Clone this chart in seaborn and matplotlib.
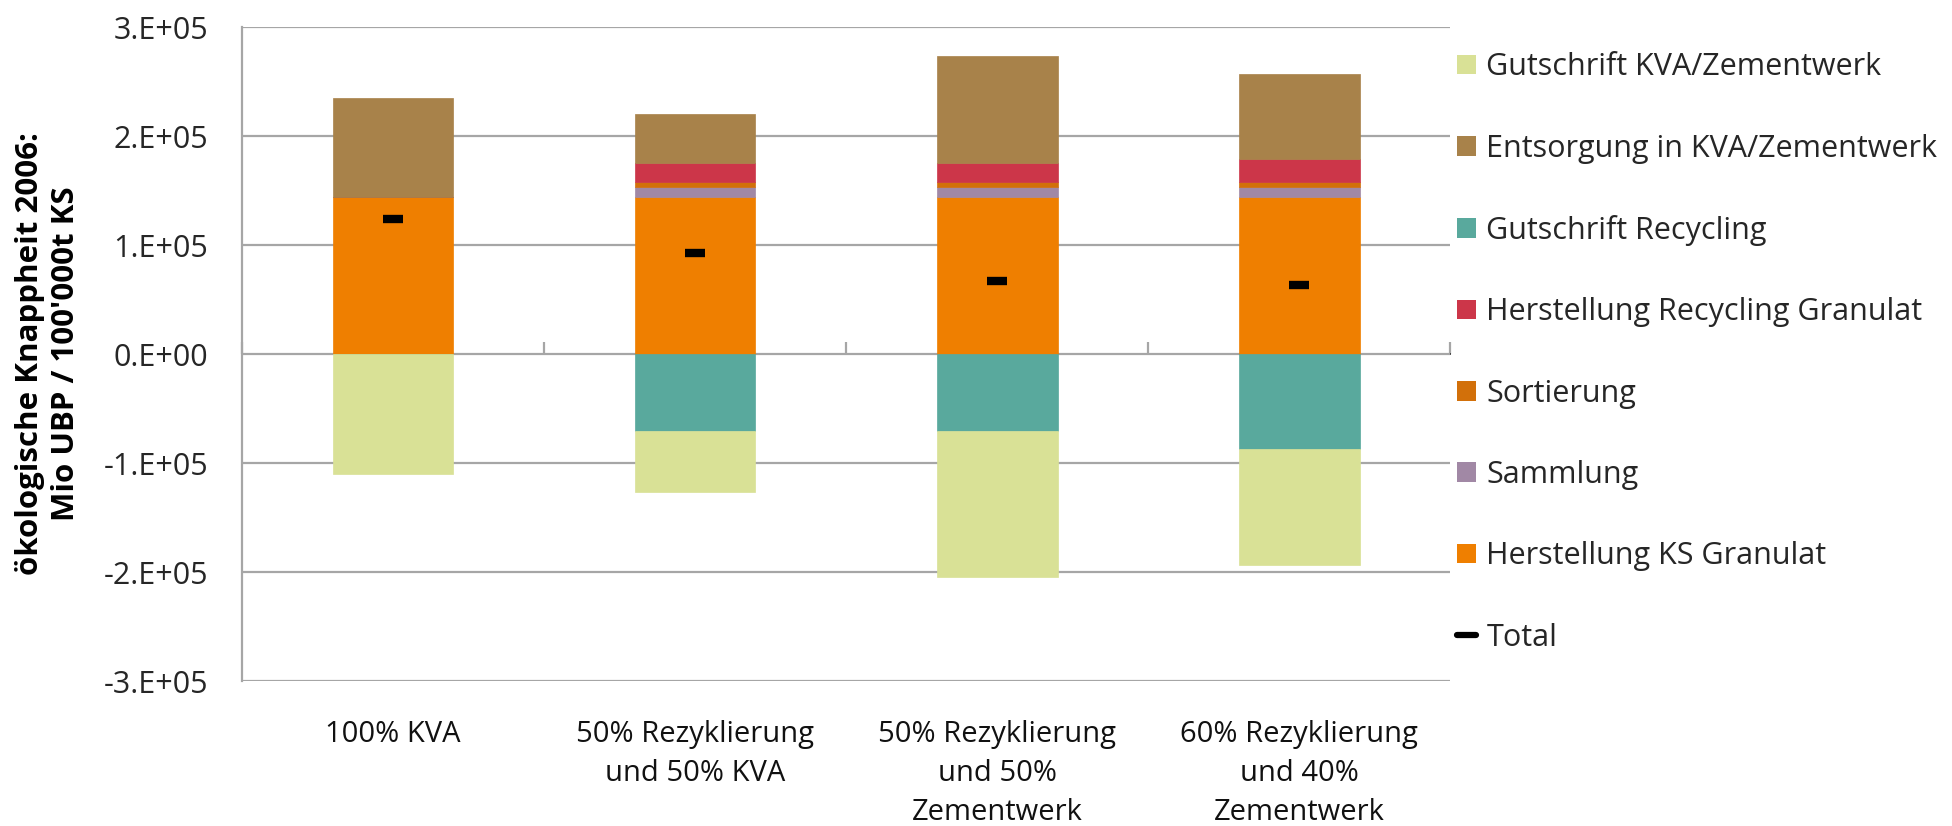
import seaborn as sb
import matplotlib.pyplot as plt
import matplotlib.ticker as mticker
from matplotlib.patches import Patch
from matplotlib.lines import Line2D
import numpy as np

sb.set_theme(style='white')
plt.rcParams['font.family'] = ['Open Sans', 'DejaVu Sans']

# scenarios
categories = ['100% KVA',
              '50% Rezyklierung\nund 50% KVA',
              '50% Rezyklierung\nund 50%\nZementwerk',
              '60% Rezyklierung\nund 40%\nZementwerk']

# positive contributions (stacked upward, in this order)
herstellung_ks = [144000, 144000, 144000, 144000]
sammlung = [0, 9000, 9000, 9000]
sortierung = [0, 5000, 5000, 5000]
herstellung_rec = [0, 17500, 17500, 20500]
entsorgung = [91000, 45000, 98000, 78000]
# credits (stacked downward)
gutschrift_rec = [0, -71000, -71000, -87000]
gutschrift_kva = [-110000, -56000, -134000, -107000]
# net result
total = [124000, 93000, 67000, 63000]

pos_series = [
    ('Herstellung KS Granulat', herstellung_ks, '#EF7F00'),
    ('Sammlung', sammlung, '#A188A5'),
    ('Sortierung', sortierung, '#D2700A'),
    ('Herstellung Recycling Granulat', herstellung_rec, '#CC3649'),
    ('Entsorgung in KVA/Zementwerk', entsorgung, '#A8824A'),
]
neg_series = [
    ('Gutschrift Recycling', gutschrift_rec, '#59A99D'),
    ('Gutschrift KVA/Zementwerk', gutschrift_kva, '#D9E196'),
]

fig = plt.figure(figsize=(19.52, 8.26), dpi=100)
ax = fig.add_axes([0.124, 0.1755, 0.6189, 0.7918])

colors = {}
for series in (pos_series, neg_series):
    base = np.zeros(len(categories))
    for name, vals, col in series:
        sb.barplot(x=categories, y=vals, bottom=list(base), color=col, width=0.4,
                   errorbar=None, saturation=1, edgecolor=col, linewidth=0.5, ax=ax)
        base = base + np.array(vals)
        colors[name] = col

sb.pointplot(x=categories, y=total, color='black', markers='_', linestyle='none',
             errorbar=None, markersize=14, markeredgewidth=6, ax=ax)

ax.set_ylim(-300000, 300000)
ax.set_xlim(-0.5, len(categories) - 0.5)
ax.yaxis.set_major_locator(mticker.MultipleLocator(100000))
ax.yaxis.set_major_formatter(mticker.FuncFormatter(
    lambda v, p: '{:.0E}'.format(v).replace('E', '.E')))
ax.yaxis.grid(True, color='#A6A6A6', linewidth=1.6)
ax.set_axisbelow(True)
for s in ['top', 'right', 'bottom']:
    ax.spines[s].set_visible(False)
ax.spines['left'].set_color('#A6A6A6')
ax.spines['left'].set_linewidth(1.6)
ax.tick_params(axis='y', colors='#A6A6A6', length=8.5, width=1.6, pad=16,
               labelcolor='#262626', labelsize=22)
ax.tick_params(axis='x', length=0, pad=28, labelcolor='#111111', labelsize=21)
for lab in ax.get_xticklabels():
    lab.set_linespacing(1.46)
    lab.set_verticalalignment('top')
ax.set_xlabel('')
ax.set_ylabel('')

# category separators on the zero line
sec = ax.secondary_xaxis(0.5)
sec.spines['bottom'].set_visible(False)
sec.set_xticks([])
sec.xaxis.set_minor_locator(mticker.FixedLocator(np.arange(-0.5, len(categories), 1.0)))
sec.tick_params(which='minor', length=9, width=1.6, color='#A6A6A6', direction='out')

fig.text(0.0246, 0.572, 'ökologische Knappheit 2006:\nMio UBP / 100\'000t KS',
         rotation=90, ha='center', va='center', multialignment='center',
         fontsize=22.5, fontweight='bold', linespacing=1.3, color='black')

order = ['Gutschrift KVA/Zementwerk', 'Entsorgung in KVA/Zementwerk', 'Gutschrift Recycling',
         'Herstellung Recycling Granulat', 'Sortierung', 'Sammlung', 'Herstellung KS Granulat']
handles = [Patch(facecolor=colors[n], edgecolor='none') for n in order]
handles.append(Line2D([0], [0], color='black', linewidth=4.5))
labels = order + ['Total']
fig.legend(handles, labels, loc='upper left', bbox_to_anchor=(0.7325, 0.970),
           frameon=False, fontsize=22, handlelength=0.6, handleheight=0.6,
           handletextpad=0.35, labelspacing=1.68, labelcolor='#262626')

plt.savefig('out.png', dpi=100)
